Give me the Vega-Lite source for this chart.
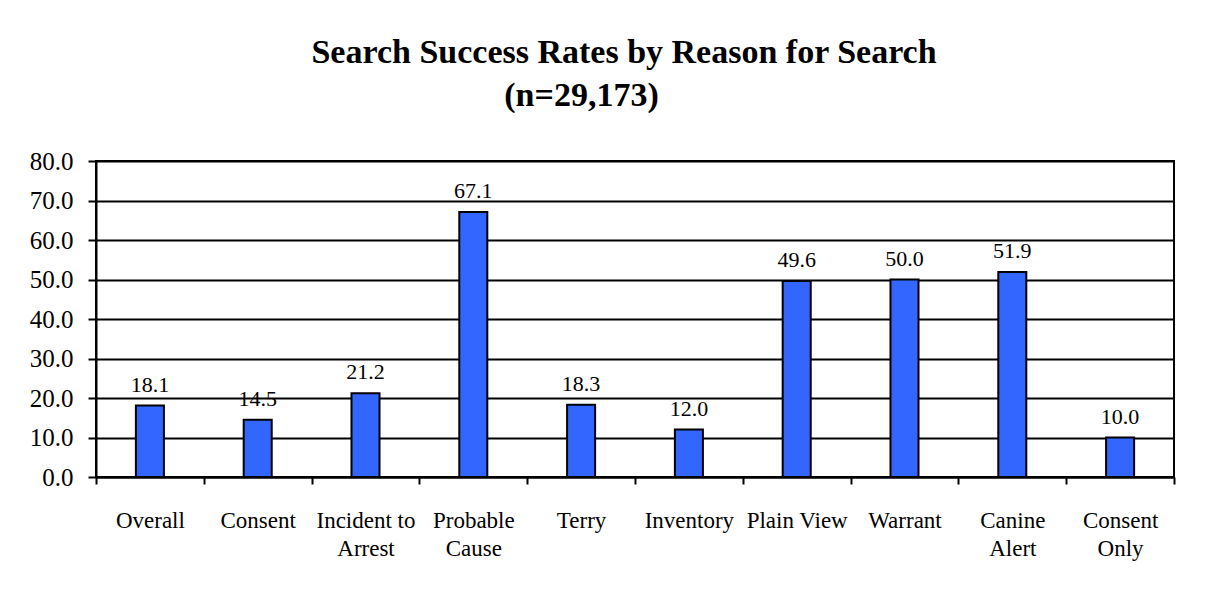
{
  "$schema": "https://vega.github.io/schema/vega-lite/v6.json",
  "width": 1078,
  "height": 316,
  "autosize": "none",
  "padding": {"left": 96, "top": 161, "right": 38, "bottom": 135},
  "background": "white",
  "title": {
    "text": "Search Success Rates by Reason for Search",
    "subtitle": "(n=29,173)\u2003\u2003\u2002\u200b",
    "anchor": "middle",
    "frame": "group",
    "dx": -11,
    "offset": 36,
    "font": "Liberation Serif",
    "fontSize": 34,
    "fontWeight": "bold",
    "color": "black",
    "subtitleFont": "Liberation Serif",
    "subtitleFontSize": 34,
    "subtitleFontWeight": "bold",
    "subtitleColor": "black",
    "subtitlePadding": 9
  },
  "data": {
    "values": [
      {"reason": "Overall", "rate": 18.1},
      {"reason": "Consent", "rate": 14.5},
      {"reason": "Incident to Arrest", "rate": 21.2},
      {"reason": "Probable Cause", "rate": 67.1},
      {"reason": "Terry", "rate": 18.3},
      {"reason": "Inventory", "rate": 12.0},
      {"reason": "Plain View", "rate": 49.6},
      {"reason": "Warrant", "rate": 50.0},
      {"reason": "Canine Alert", "rate": 51.9},
      {"reason": "Consent Only", "rate": 10.0}
    ]
  },
  "encoding": {
    "x": {
      "field": "reason",
      "type": "nominal",
      "sort": null,
      "scale": {"paddingInner": 0, "paddingOuter": 0},
      "axis": {
        "title": null,
        "labelAngle": 0,
        "tickBand": "extent",
        "labelFont": "Liberation Serif",
        "labelFontSize": 23,
        "labelColor": "black",
        "labelLineHeight": 28,
        "labelPadding": 25,
        "labelExpr": "datum.label == 'Incident to Arrest' ? ['Incident to', 'Arrest'] : datum.label == 'Probable Cause' ? ['Probable', 'Cause'] : datum.label == 'Canine Alert' ? ['Canine', 'Alert'] : datum.label == 'Consent Only' ? ['Consent', 'Only'] : datum.label",
        "domainColor": "black",
        "domainWidth": 2,
        "tickColor": "black",
        "tickWidth": 2,
        "tickSize": 7,
        "grid": false
      }
    },
    "y": {
      "field": "rate",
      "type": "quantitative",
      "scale": {"domain": [0, 80], "nice": false},
      "axis": {
        "title": null,
        "values": [0, 10, 20, 30, 40, 50, 60, 70, 80],
        "format": ".1f",
        "labelFont": "Liberation Serif",
        "labelFontSize": 25,
        "labelColor": "black",
        "labelPadding": 15,
        "domainColor": "black",
        "domainWidth": 2,
        "tickColor": "black",
        "tickWidth": 2,
        "tickSize": 8,
        "grid": true,
        "gridColor": "black",
        "gridWidth": 2,
        "gridOpacity": 1
      }
    }
  },
  "layer": [
    {
      "mark": {"type": "bar", "width": {"band": 0.26}, "fill": "#3366ff", "stroke": "black", "strokeWidth": 2}
    },
    {
      "mark": {"type": "text", "baseline": "alphabetic", "dy": -14, "font": "Liberation Serif", "fontSize": 22, "color": "black"},
      "encoding": {"text": {"field": "rate", "type": "quantitative", "format": ".1f"}}
    }
  ],
  "config": {
    "view": {"stroke": "black", "strokeWidth": 2},
    "axis": {"labelOverlap": false}
  }
}
